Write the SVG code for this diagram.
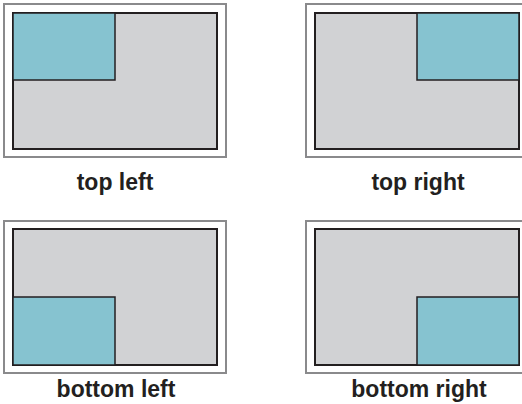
<svg xmlns="http://www.w3.org/2000/svg" width="522" height="404" viewBox="0 0 522 404">
<style>
.frame{fill:#fff;stroke:#8a8a8c;stroke-width:2}
.panel{fill:#d1d2d4;stroke:#231f20;stroke-width:2}
.hl{fill:#86c3d0;stroke:#231f20;stroke-width:1.5}
.lbl{font-family:"Liberation Sans",Arial,sans-serif;font-weight:bold;font-size:23px;fill:#231f20;text-anchor:middle}
</style>
<rect width="522" height="404" fill="#fff"/>
<g id="top-left">
<rect class="frame" x="4" y="4" width="222" height="153"/>
<rect class="panel" x="13" y="13" width="204" height="136"/>
<rect class="hl" x="13" y="13" width="102" height="67"/>
<text class="lbl" x="115" y="190">top left</text>
</g>
<g id="top-right">
<rect class="frame" x="306" y="4" width="222" height="153"/>
<rect class="panel" x="315" y="13" width="204" height="136"/>
<rect class="hl" x="417" y="13" width="102" height="67"/>
<text class="lbl" x="418" y="190">top right</text>
</g>
<g id="bottom-left">
<rect class="frame" x="4" y="221" width="222" height="152"/>
<rect class="panel" x="13" y="229" width="204" height="136"/>
<rect class="hl" x="13" y="297" width="102" height="68"/>
<text class="lbl" x="116" y="397">bottom left</text>
</g>
<g id="bottom-right">
<rect class="frame" x="306" y="221" width="222" height="152"/>
<rect class="panel" x="315" y="229" width="204" height="136"/>
<rect class="hl" x="417" y="297" width="102" height="68"/>
<text class="lbl" x="419" y="397">bottom right</text>
</g>
<g id="connectors"/>
</svg>
